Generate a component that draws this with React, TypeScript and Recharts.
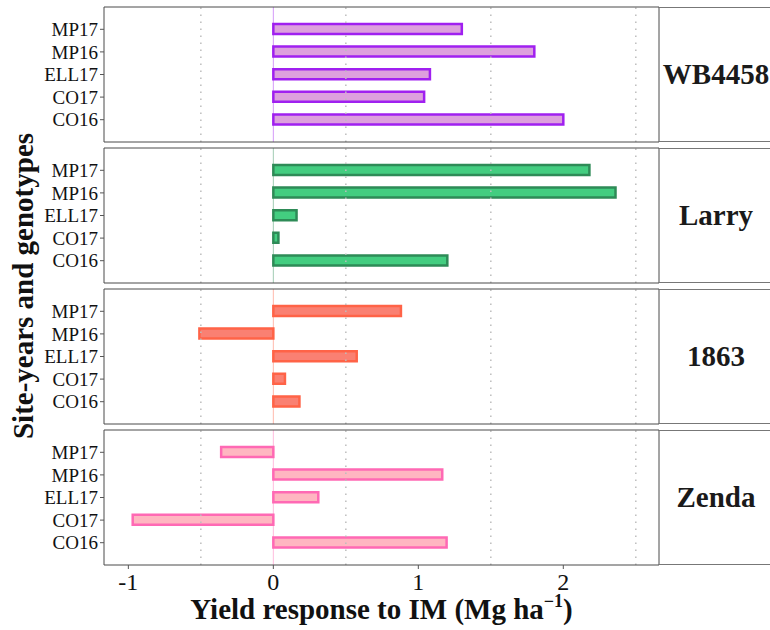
import React from 'react';
import { BarChart, Bar, XAxis, YAxis, ReferenceLine } from 'recharts';

const siteYears = ['MP17', 'MP16', 'ELL17', 'CO17', 'CO16'];
const genotypes = ['WB4458', 'Larry', '1863', 'Zenda'];
const wb4458 = [1.3, 1.8, 1.08, 1.04, 2.0];
const larry = [2.18, 2.36, 0.16, 0.035, 1.2];
const g1863 = [0.88, -0.51, 0.575, 0.08, 0.18];
const zenda = [-0.36, 1.165, 0.31, -0.97, 1.195];
const seriesValues = [wb4458, larry, g1863, zenda];
const fills = ['#DDA0DD', '#43CD80', '#FA8072', '#FFB6C1'];
const strokes = ['#A020F0', '#2E8B57', '#FF6347', '#FF69B4'];
const xTicks = [-1, 0, 1, 2];
const minorGrid = [-0.5, 0.5, 1.5, 2.5];
const xDomain = [-1.168, 2.66];

const FONT = '"Liberation Serif", "Times New Roman", serif';
const FRAME = '#4a4a4a';
const PANEL_TOPS = [7, 148, 289, 430];
const PANEL_H = 135;
const M = 2;

function Panel({ idx, last }: { idx: number; last: boolean }) {
  const values = seriesValues[idx];
  const data = siteYears.map((s, i) => ({ name: s, v: values[i] }));
  const bottomH = last ? 60 : 1;
  const h = PANEL_H + 2 * M + 1 + bottomH;
  return (
    <div style={{ position: 'absolute', left: 0, top: PANEL_TOPS[idx] - M - 1, width: 770, height: h }}>
      <BarChart
        width={770}
        height={h}
        data={data}
        layout="vertical"
        margin={{ top: M, right: 110, bottom: M, left: 0 }}
      >
        <XAxis
          xAxisId="top"
          orientation="top"
          type="number"
          domain={xDomain}
          allowDataOverflow
          ticks={xTicks}
          height={1}
          tick={false}
          tickLine={false}
          axisLine={{ stroke: FRAME }}
        />
        <XAxis
          type="number"
          domain={xDomain}
          allowDataOverflow
          ticks={xTicks}
          interval={0}
          height={bottomH}
          tick={last ? { fill: '#111', fontSize: 24, fontFamily: FONT } : false}
          tickLine={last ? { stroke: '#555' } : false}
          tickSize={4}
          tickMargin={4}
          axisLine={{ stroke: FRAME }}
        />
        <YAxis
          type="category"
          dataKey="name"
          width={104}
          padding={{ top: 11, bottom: 11 }}
          interval={0}
          tickSize={4}
          tickMargin={2}
          tickLine={{ stroke: '#555' }}
          axisLine={{ stroke: FRAME }}
          tick={{ fill: '#111', fontSize: 19, fontFamily: FONT }}
        />
        <YAxis
          yAxisId="right"
          orientation="right"
          type="category"
          dataKey="name"
          width={1}
          tick={false}
          tickLine={false}
          axisLine={{ stroke: FRAME }}
        />
        {minorGrid.map((g) => (
          <ReferenceLine key={g} x={g} stroke="#bdbdbd" strokeDasharray="1.5 5.5" strokeWidth={1.5} />
        ))}
        <ReferenceLine x={0} stroke={strokes[idx]} strokeOpacity={0.45} />
        <Bar
          dataKey="v"
          fill={fills[idx]}
          stroke={strokes[idx]}
          strokeWidth={2.5}
          barSize={10}
          isAnimationActive={false}
        />
      </BarChart>
    </div>
  );
}

function Strip({ idx }: { idx: number }) {
  return (
    <div
      style={{
        position: 'absolute',
        left: 659,
        top: PANEL_TOPS[idx],
        width: 114,
        height: PANEL_H,
        boxSizing: 'border-box',
        borderTop: '1px solid #777',
        borderBottom: '1px solid #777',
        display: 'flex',
        alignItems: 'center',
        justifyContent: 'center',
        fontFamily: FONT,
        fontWeight: 'bold',
        fontSize: 29,
        color: '#1a1a1a',
      }}
    >
      {genotypes[idx]}
    </div>
  );
}

export default function App() {
  return (
    <div
      style={{
        position: 'absolute',
        left: 0,
        top: 0,
        width: 770,
        height: 630,
        overflow: 'hidden',
        background: '#fff',
      }}
    >
      {genotypes.map((g, i) => (
        <Panel key={g} idx={i} last={i === genotypes.length - 1} />
      ))}
      {genotypes.map((g, i) => (
        <Strip key={g} idx={i} />
      ))}
      <svg
        width={770}
        height={630}
        style={{ position: 'absolute', left: 0, top: 0, pointerEvents: 'none' }}
      >
        <text
          transform="rotate(-90)"
          x={-286}
          y={33}
          textAnchor="middle"
          fontFamily={FONT}
          fontWeight="bold"
          fontSize={29}
          fill="#111"
        >
          Site-years and genotypes
        </text>
        <text
          x={381.5}
          y={619}
          textAnchor="middle"
          fontFamily={FONT}
          fontWeight="bold"
          fontSize={29}
          fill="#111"
        >
          Yield response to IM (Mg ha
          <tspan fontSize={18} dy={-12}>−1</tspan>
          <tspan dy={12}>)</tspan>
        </text>
      </svg>
    </div>
  );
}
